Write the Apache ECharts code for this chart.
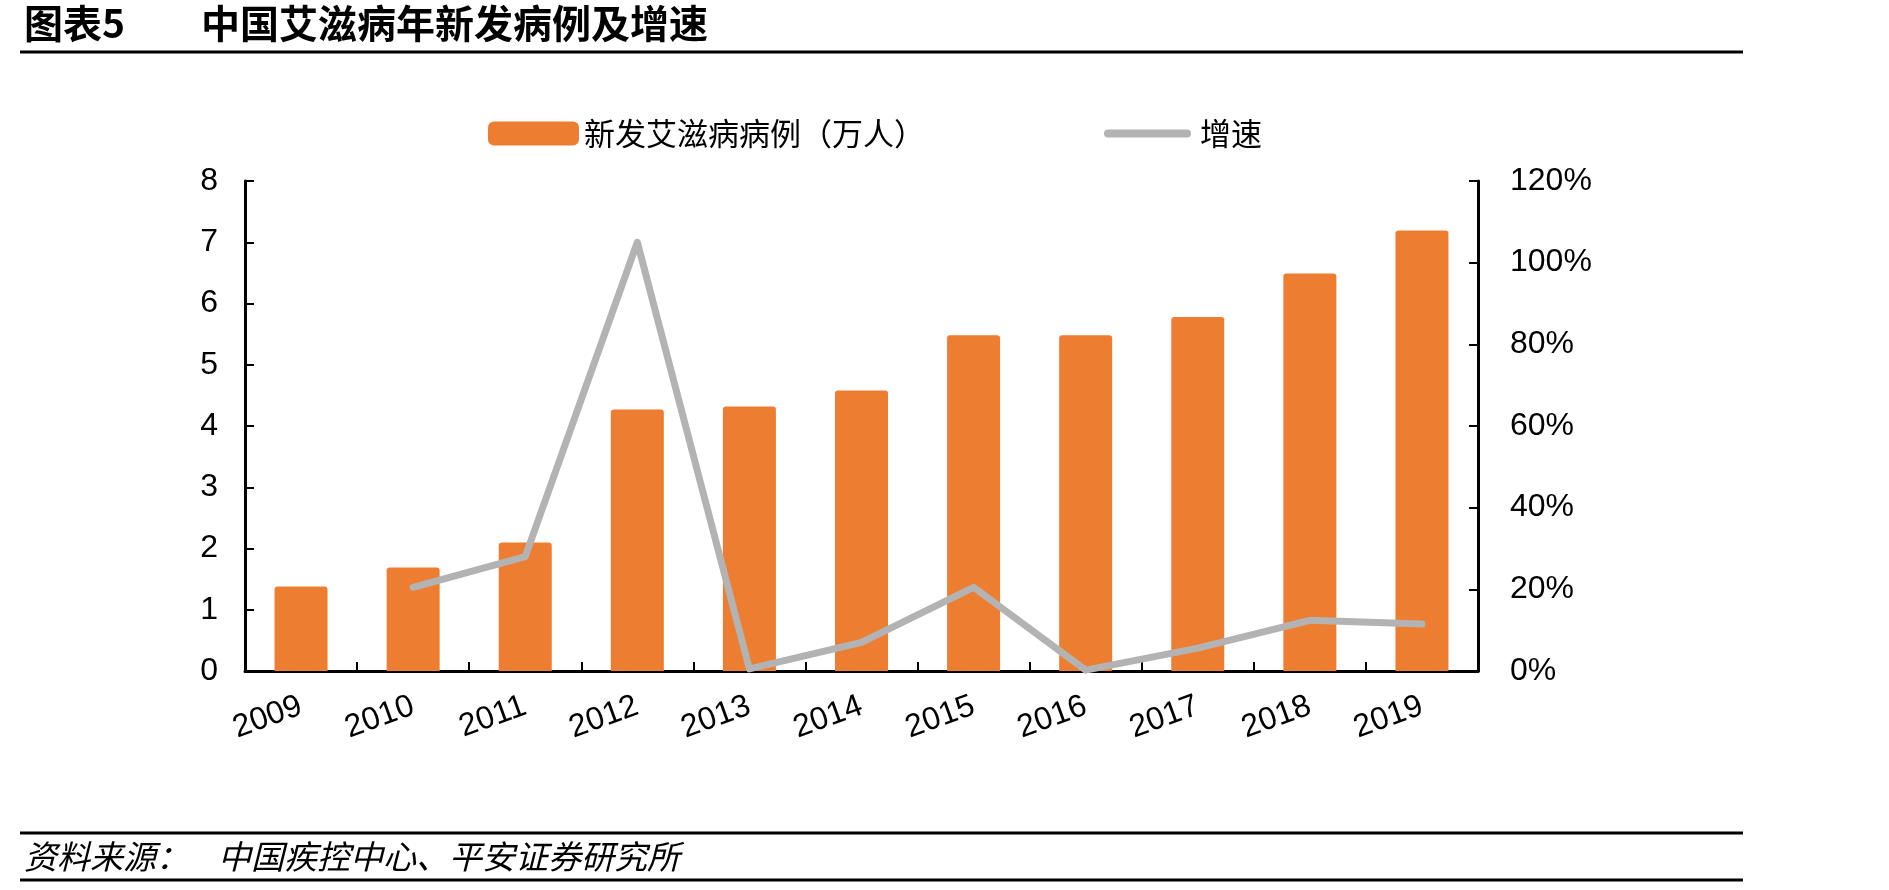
<!DOCTYPE html>
<html>
<head>
<meta charset="utf-8">
<script src="https://cdn.jsdelivr.net/npm/echarts@6/dist/echarts.min.js"></script>
<style>
html,body{margin:0;padding:0;background:#fff;}
#chart{width:1889px;height:890px;}
</style>
</head>
<body>
<div id="chart"></div>
<script>
var categories = ['2009','2010','2011','2012','2013','2014','2015','2016','2017','2018','2019'];
var newCases = [1.38, 1.69, 2.10, 4.27, 4.32, 4.58, 5.48, 5.48, 5.78, 6.49, 7.19];
var growthRate = [null, 20.5, 28.0, 105.0, 0.5, 7.0, 20.5, 0.2, 5.6, 12.4, 11.5];
var seriesNames = ['新发艾滋病病例（万人）', '增速'];
var titleLabel = '图表5';
var titleText = '中国艾滋病年新发病例及增速';
var sourceLabel = '资料来源：';
var sourceText = '中国疾控中心、平安证券研究所';

var chart = echarts.init(document.getElementById('chart'), null, {renderer: 'canvas'});
var numFont = 'Liberation Sans, Arial, sans-serif';
var cjkFont = '"Noto Sans CJK SC", sans-serif';

var option = {
  backgroundColor: '#ffffff',
  animation: false,
  graphic: [
    {type: 'text', left: 24, top: 4, style: {text: titleLabel, font: 'bold 39px ' + cjkFont, fill: '#000'}},
    {type: 'text', left: 201, top: 4, style: {text: titleText, font: 'bold 39px ' + cjkFont, fill: '#000'}},
    {type: 'line', shape: {x1: 20, y1: 52, x2: 1743, y2: 52}, style: {stroke: '#000', lineWidth: 3}},
    {type: 'line', shape: {x1: 20, y1: 833, x2: 1743, y2: 833}, style: {stroke: '#000', lineWidth: 3}},
    {type: 'line', shape: {x1: 20, y1: 880, x2: 1743, y2: 880}, style: {stroke: '#000', lineWidth: 3}},
    {type: 'text', left: 24, top: 840, style: {text: sourceLabel, font: 'italic 33px ' + cjkFont, fill: '#000'}},
    {type: 'text', left: 218, top: 840, style: {text: sourceText, font: 'italic 33px ' + cjkFont, fill: '#000'}}
  ],
  legend: [
    {
      data: [{name: seriesNames[0], icon: 'roundRect'}],
      left: 483, top: 113,
      itemWidth: 91, itemHeight: 24,
      textStyle: {fontFamily: cjkFont, fontSize: 31, color: '#000', lineHeight: 30}
    },
    {
      data: [{name: seriesNames[1], icon: 'path://M4,0 L83,0 A4,4 0 0 1 83,8 L4,8 A4,4 0 0 1 4,0 Z'}],
      left: 1099, top: 113,
      itemWidth: 87, itemHeight: 8,
      itemStyle: {color: '#B3B3B3'},
      textStyle: {fontFamily: cjkFont, fontSize: 31, color: '#000', lineHeight: 30, padding: [0, 0, 0, 4]}
    }
  ],
  grid: {left: 245, right: 411, top: 181, bottom: 219, containLabel: false},
  xAxis: {
    type: 'category',
    data: categories,
    boundaryGap: true,
    axisLine: {lineStyle: {color: '#000', width: 3}},
    axisTick: {show: true, inside: true, length: 9, lineStyle: {color: '#000', width: 2}},
    axisLabel: {rotate: 20, margin: 34, fontFamily: numFont, fontSize: 32, color: '#000', interval: 0}
  },
  yAxis: [
    {
      type: 'value', min: 0, max: 8, interval: 1,
      axisLine: {show: true, lineStyle: {color: '#000', width: 3}},
      axisTick: {show: true, inside: true, length: 9, lineStyle: {color: '#000', width: 2}},
      splitLine: {show: false},
      axisLabel: {margin: 27, fontFamily: numFont, fontSize: 32, color: '#000'}
    },
    {
      type: 'value', min: 0, max: 120, interval: 20, position: 'right',
      axisLine: {show: true, lineStyle: {color: '#000', width: 3}},
      axisTick: {show: true, inside: true, length: 9, lineStyle: {color: '#000', width: 2}},
      splitLine: {show: false},
      axisLabel: {margin: 32, fontFamily: numFont, fontSize: 32, color: '#000', formatter: '{value}%'}
    }
  ],
  series: [
    {
      name: seriesNames[0], type: 'bar', yAxisIndex: 0,
      data: newCases, barWidth: 53,
      itemStyle: {color: '#ED7D31', borderRadius: [3, 3, 0, 0]}
    },
    {
      name: seriesNames[1], type: 'line', yAxisIndex: 1,
      data: growthRate, symbol: 'none', connectNulls: false,
      lineStyle: {color: '#B3B3B3', width: 7, cap: 'round', join: 'round'},
      itemStyle: {color: '#B3B3B3'}
    }
  ]
};
chart.setOption(option);
</script>
</body>
</html>
